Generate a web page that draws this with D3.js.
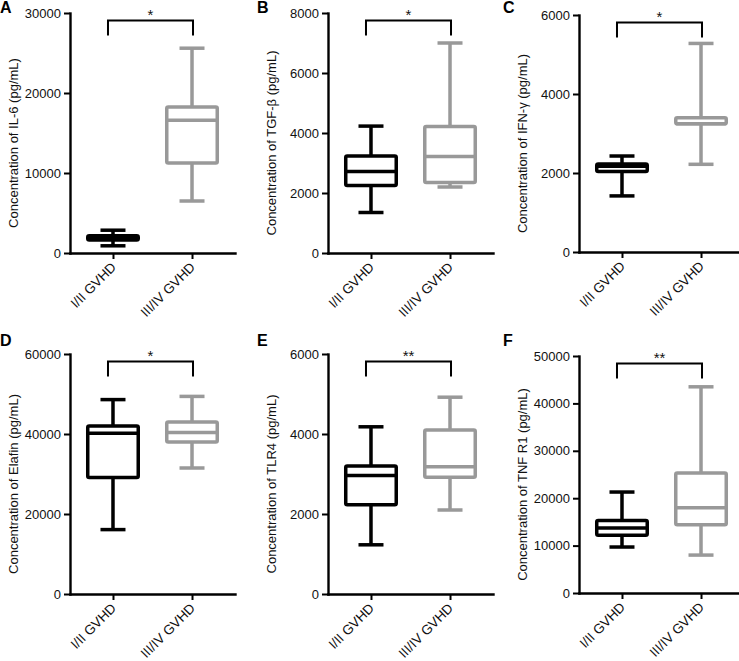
<!DOCTYPE html>
<html>
<head>
<meta charset="utf-8">
<script src="https://cdn.jsdelivr.net/npm/d3@7"></script>
<style>
  html, body { margin: 0; padding: 0; background: #fff; }
  svg { display: block; font-family: Arial, "Liberation Sans", Helvetica, sans-serif; }
</style>
</head>
<body>
<svg id="chart" width="739" height="661"></svg>
<script>
// ---- data ----
const panelLetters = ["A", "B", "C", "D", "E", "F"];
const yTitles = [
  "Concentration of IL-6 (pg/mL)",
  "Concentration of TGF-\u03b2 (pg/mL)",
  "Concentration of IFN-\u03b3 (pg/mL)",
  "Concentration of Elafin (pg/mL)",
  "Concentration of TLR4 (pg/mL)",
  "Concentration of TNF R1 (pg/mL)"
];
const categories = ["I/II GVHD", "III/IV GVHD"];
const yMax = [30000, 8000, 6000, 60000, 6000, 50000];
const yTickValues = [
  [0, 10000, 20000, 30000],
  [0, 2000, 4000, 6000, 8000],
  [0, 2000, 4000, 6000],
  [0, 20000, 40000, 60000],
  [0, 2000, 4000, 6000],
  [0, 10000, 20000, 30000, 40000, 50000]
];
const significance = ["*", "*", "*", "*", "**", "**"];
// box stats: [min, q1, median, q3, max]
const lowGradeStats = [
  [900, 1620, 1900, 2160, 2850],
  [1350, 2250, 2720, 3230, 4230],
  [1420, 2040, 2170, 2230, 2430],
  [16100, 29100, 40200, 42000, 48600],
  [1230, 2230, 2960, 3200, 4180],
  [9700, 12200, 13700, 15300, 21300]
];
const highGradeStats = [
  [6500, 11250, 16600, 18250, 25600],
  [2200, 2350, 3220, 4220, 7000],
  [2220, 3250, 3250, 3400, 5280],
  [31500, 38000, 40400, 43000, 49400],
  [2100, 2920, 3180, 4100, 4920],
  [8000, 14400, 18000, 25300, 43500]
];
const groupColors = ["#000000", "#999999"];

// ---- layout ----
const axisX = [70, 328, 579];
const plotTop = [[13, 13, 15], [354, 354, 356]];
const plotBottom = [[253, 253, 252], [594, 594, 593]];
const letterX = [0, 257, 503];
const letterY = [13, 346];
const axisLen = 165;

const svg = d3.select("#chart");

panelLetters.forEach((letter, i) => {
  const row = Math.floor(i / 3), col = i % 3;
  const ax = axisX[col];
  const top = plotTop[row][col], bottom = plotBottom[row][col];
  const g = svg.append("g");

  const y = d3.scaleLinear().domain([0, yMax[i]]).range([bottom, top]);
  const x = d3.scalePoint().domain(categories).range([ax, ax + axisLen]).padding(0.544);

  // panel letter
  g.append("text")
    .attr("x", letterX[col]).attr("y", letterY[row])
    .attr("font-size", 16).attr("font-weight", "bold")
    .text(letter);

  // y axis
  const yAxis = g.append("g")
    .attr("transform", `translate(${ax},0)`)
    .call(d3.axisLeft(y).tickValues(yTickValues[i]).tickFormat(d3.format("d"))
      .tickSize(6).tickSizeOuter(0).tickPadding(3));
  yAxis.select(".domain").attr("stroke-width", 2.4).attr("stroke-linecap", "square");
  yAxis.selectAll(".tick line").attr("stroke-width", 2);
  yAxis.selectAll(".tick text").attr("font-size", 13).attr("fill", "#111")
    .attr("font-family", "Arial, 'Liberation Sans', sans-serif");

  // x axis
  const xAxis = g.append("g")
    .attr("transform", `translate(0,${bottom})`)
    .call(d3.axisBottom(x).tickSize(6).tickSizeOuter(0).tickFormat(""));
  xAxis.select(".domain").attr("stroke-width", 2.4).attr("stroke-linecap", "square");
  xAxis.selectAll(".tick line").attr("stroke-width", 2);

  categories.forEach(c => {
    g.append("text")
      .attr("transform", `translate(${x(c) + 4},${bottom + 15}) rotate(-45)`)
      .attr("text-anchor", "end")
      .attr("font-size", 13.5).attr("fill", "#111")
      .text(c);
  });

  // y title
  g.append("text")
    .attr("transform", `translate(${ax - 57},${(top + bottom) / 2 + 10}) rotate(-90)`)
    .attr("text-anchor", "middle")
    .attr("dominant-baseline", "central")
    .attr("font-size", 13).attr("fill", "#111")
    .text(yTitles[i]);

  // boxes
  const boxW = 50.5, capW = 25;
  [lowGradeStats[i], highGradeStats[i]].forEach((s, k) => {
    const cx = x(categories[k]);
    const col2 = groupColors[k];
    const bg = g.append("g").attr("stroke", col2).attr("stroke-width", 3.5).attr("fill", "none");
    const [mn, q1, md, q3, mx] = s;
    bg.append("line").attr("x1", cx).attr("x2", cx).attr("y1", y(mx)).attr("y2", y(q3));
    bg.append("line").attr("x1", cx).attr("x2", cx).attr("y1", y(q1)).attr("y2", y(mn));
    bg.append("line").attr("x1", cx - capW / 2).attr("x2", cx + capW / 2).attr("y1", y(mx)).attr("y2", y(mx));
    bg.append("line").attr("x1", cx - capW / 2).attr("x2", cx + capW / 2).attr("y1", y(mn)).attr("y2", y(mn));
    bg.append("rect")
      .attr("x", cx - boxW / 2).attr("width", boxW)
      .attr("y", y(q3)).attr("height", y(q1) - y(q3))
      .attr("rx", 1.5).attr("stroke-linejoin", "round");
    bg.append("line").attr("x1", cx - boxW / 2).attr("x2", cx + boxW / 2).attr("y1", y(md)).attr("y2", y(md));
  });

  // significance bracket
  const bx1 = x(categories[0]) - 5, bx2 = x(categories[1]) + 1;
  const by = top + 7.5, legs = 15;
  g.append("path")
    .attr("d", `M${bx1},${by + legs}V${by}H${bx2}V${by + legs}`)
    .attr("fill", "none").attr("stroke", "#000").attr("stroke-width", 2);
  g.append("text")
    .attr("x", (bx1 + bx2) / 2).attr("y", by - 1)
    .attr("text-anchor", "middle")
    .attr("font-size", 15).attr("fill", "#111")
    .text(significance[i]);
});
</script>
</body>
</html>
